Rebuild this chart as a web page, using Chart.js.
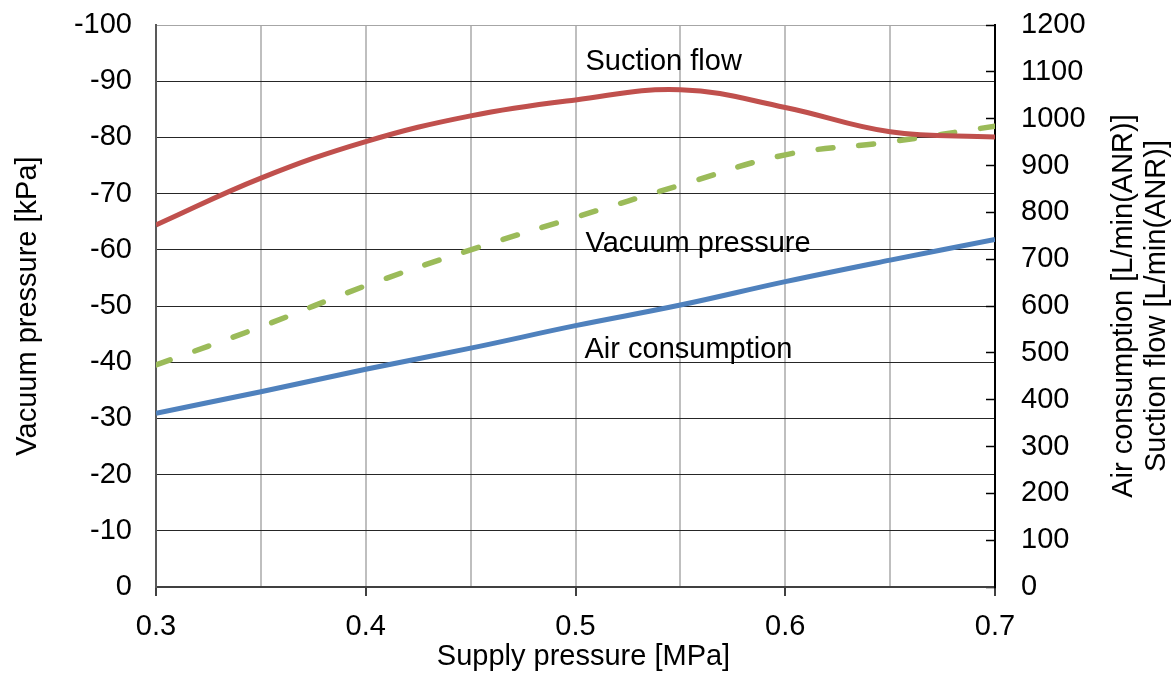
<!DOCTYPE html>
<html>
<head>
<meta charset="utf-8">
<script src="https://cdn.jsdelivr.net/npm/chart.js@4.4.1/dist/chart.umd.min.js"></script>
<style>
  html, body { margin: 0; padding: 0; background: #ffffff; }
  #wrap { width: 1176px; height: 679px; }
</style>
</head>
<body>
<div id="wrap"><canvas id="c" width="1176" height="679"></canvas></div>
<script>
// ---- data ----
const supplyPressure = [0.30, 0.35, 0.40, 0.45, 0.50, 0.55, 0.60, 0.65, 0.70];     // MPa
const vacuumPressure = [-39.5, -46.3, -53.6, -60.0, -65.8, -71.5, -76.9, -79.2, -82.0]; // kPa
const airConsumption = [371, 417, 465, 510, 558, 602, 652, 698, 742];  // L/min(ANR)
const suctionFlow    = [773, 873, 951, 1006, 1040, 1062, 1024, 972, 961]; // L/min(ANR)

const leftTitle = 'Vacuum pressure [kPa]';
const rightTitleLines = ['Air consumption [L/min(ANR)]', 'Suction flow [L/min(ANR)]'];
const xTitle = 'Supply pressure [MPa]';
const seriesNames = ['Suction flow', 'Vacuum pressure', 'Air consumption'];

const FONT = "'Liberation Sans', Arial, sans-serif";
const FS = 29;

function pts(xs, ys) { return xs.map((x, i) => ({ x: x, y: ys[i] })); }
function isMajor(v) { return Math.round(v * 100) % 10 === 0; }

const bgPlugin = {
  id: 'bg',
  beforeDraw(chart) {
    const ctx = chart.ctx;
    ctx.save();
    ctx.fillStyle = '#ffffff';
    ctx.fillRect(0, 0, chart.width, chart.height);
    ctx.restore();
  }
};

const textPlugin = {
  id: 'texts',
  afterDraw(chart) {
    const ctx = chart.ctx;
    const ca = chart.chartArea;
    const xs = chart.scales.x;
    ctx.save();
    ctx.fillStyle = '#000000';
    ctx.font = FS + 'px ' + FONT;
    ctx.textAlign = 'left';
    ctx.textBaseline = 'alphabetic';
    const x0 = xs.getPixelForValue(0.5) + 10;
    ctx.fillText(seriesNames[0], x0, ca.top + 45);
    ctx.fillText(seriesNames[1], x0, ca.top + 227);
    ctx.fillText(seriesNames[2], x0 - 1, ca.top + 333);
    // x axis title
    ctx.textAlign = 'center';
    ctx.textBaseline = 'middle';
    ctx.fillText(xTitle, (ca.left + ca.right) / 2 + 8, ca.bottom + 70);
    // right axis two-line title, reading bottom to top
    const cy = (ca.top + ca.bottom) / 2;
    const xsLines = [ca.right + 129, ca.right + 162];
    rightTitleLines.forEach((t, i) => {
      ctx.save();
      ctx.translate(xsLines[i], cy);
      ctx.rotate(-Math.PI / 2);
      ctx.fillText(t, 0, 0);
      ctx.restore();
    });
    ctx.restore();
  }
};

function noVPad(scale) { scale.paddingTop = 0; scale.paddingBottom = 0; }

new Chart(document.getElementById('c'), {
  type: 'line',
  data: {
    datasets: [
      {
        label: seriesNames[0],
        data: pts(supplyPressure, suctionFlow),
        yAxisID: 'y2',
        borderColor: '#C0504D',
        borderWidth: 5,
        tension: 0.4,
        pointRadius: 0,
        fill: false
      },
      {
        label: seriesNames[1],
        data: pts(supplyPressure, vacuumPressure),
        yAxisID: 'y',
        borderColor: '#9BBB59',
        borderWidth: 5.5,
        borderDash: [15, 26],
        borderCapStyle: 'round',
        tension: 0.4,
        pointRadius: 0,
        fill: false
      },
      {
        label: seriesNames[2],
        data: pts(supplyPressure, airConsumption),
        yAxisID: 'y2',
        borderColor: '#4F81BD',
        borderWidth: 5,
        tension: 0.4,
        pointRadius: 0,
        fill: false
      }
    ]
  },
  options: {
    responsive: false,
    animation: false,
    devicePixelRatio: 1,
    layout: { padding: { left: 0, right: 0, top: 25, bottom: 0 } },
    plugins: {
      legend: { display: false },
      tooltip: { enabled: false }
    },
    scales: {
      x: {
        type: 'linear',
        position: 'bottom',
        min: 0.3,
        max: 0.7,
        afterBuildTicks(scale) {
          scale.ticks = supplyPressure.map(v => ({ value: v }));
        },
        ticks: {
          autoSkip: false,
          maxRotation: 0,
          padding: 14,
          color: '#000000',
          font: { family: FONT, size: FS },
          callback: (v) => isMajor(v) ? v.toFixed(1) : ''
        },
        grid: {
          color: '#BFBFBF',
          lineWidth: 2,
          drawTicks: true,
          tickLength: 9,
          tickWidth: 1.5,
          tickColor: (ctx) => (ctx.tick && isMajor(ctx.tick.value)) ? '#000000' : 'rgba(0,0,0,0)'
        },
        border: { display: true, color: '#404040', width: 2 },
        title: { display: false },
        afterFit(scale) { scale.height = 92; scale.paddingLeft = 0; scale.paddingRight = 0; }
      },
      y: {
        type: 'linear',
        position: 'left',
        min: -100,
        max: 0,
        reverse: true,
        ticks: {
          stepSize: 10,
          padding: 24,
          color: '#000000',
          font: { family: FONT, size: FS }
        },
        grid: {
          color: (ctx) => (ctx.tick && ctx.tick.value === -100) ? '#A6A6A6' : '#262626',
          lineWidth: 1,
          drawTicks: false
        },
        border: { display: true, color: '#595959', width: 2 },
        title: {
          display: true,
          text: leftTitle,
          color: '#000000',
          font: { family: FONT, size: FS },
          padding: { top: 11, bottom: 0 }
        },
        afterFit(scale) { scale.width = 156; noVPad(scale); }
      },
      y2: {
        type: 'linear',
        position: 'right',
        min: 0,
        max: 1200,
        ticks: {
          stepSize: 100,
          padding: 35,
          color: '#000000',
          font: { family: FONT, size: FS },
          callback: (v) => String(v)
        },
        grid: {
          drawOnChartArea: false,
          drawTicks: true,
          tickLength: -9,
          tickWidth: 1.5,
          tickColor: '#000000'
        },
        border: { display: true, color: '#000000', width: 2 },
        afterFit(scale) { scale.width = 181; noVPad(scale); }
      }
    }
  },
  plugins: [bgPlugin, textPlugin]
});
</script>
</body>
</html>
